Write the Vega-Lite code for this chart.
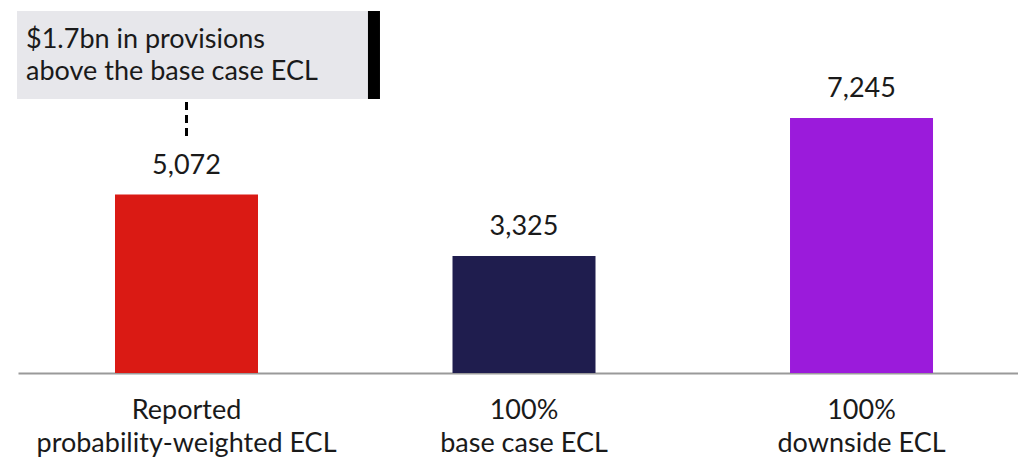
{
  "$schema": "https://vega.github.io/schema/vega-lite/v6.json",
  "width": 1000,
  "height": 373,
  "autosize": "none",
  "padding": {"left": 18, "top": 0, "right": 0, "bottom": 85},
  "background": "white",
  "config": {
    "view": {"stroke": null},
    "font": "Lato",
    "text": {"font": "Lato"}
  },
  "datasets": {
    "bars": [
      {"cat": "Reported|probability-weighted ECL", "value": 5072, "kind": "reported"},
      {"cat": "100%|base case ECL", "value": 3325, "kind": "base"},
      {"cat": "100%|downside ECL", "value": 7245, "kind": "downside"}
    ],
    "note": [
      {"cat": "Reported|probability-weighted ECL", "top": 10287, "bottom": 7786, "textY": 9236, "lineTop": 7701, "lineBottom": 6707, "label": "$1.7bn in provisions\nabove the base case ECL"}
    ]
  },
  "encoding": {
    "x": {
      "field": "cat",
      "type": "nominal",
      "sort": null,
      "scale": {"paddingInner": 0.5763, "paddingOuter": 0.2696, "align": 0.533},
      "axis": {
        "title": null,
        "labelAngle": 0,
        "labelExpr": "split(datum.label, '|')",
        "labelFont": "Lato",
        "labelFontSize": 27,
        "labelColor": "#1a1a1a",
        "labelLineHeight": 33,
        "labelBaseline": "alphabetic",
        "labelPadding": 45,
        "ticks": false,
        "tickSize": 0,
        "domainColor": "#9a9a9a",
        "domainWidth": 2,
        "labelLimit": 0
      }
    }
  },
  "layer": [
    {
      "data": {"name": "bars"},
      "mark": {"type": "bar"},
      "encoding": {
        "y": {"field": "value", "type": "quantitative", "scale": {"domain": [0, 10600], "nice": false}, "axis": null},
        "color": {
          "field": "kind",
          "type": "nominal",
          "scale": {"domain": ["reported", "base", "downside"], "range": ["#da1a14", "#1f1d4e", "#9b1bdb"]},
          "legend": null
        }
      }
    },
    {
      "data": {"name": "bars"},
      "mark": {"type": "text", "baseline": "alphabetic", "dy": -21, "fontSize": 27, "color": "#1a1a1a"},
      "encoding": {
        "y": {"field": "value", "type": "quantitative"},
        "text": {"field": "value", "type": "quantitative", "format": ","}
      }
    },
    {
      "data": {"name": "note"},
      "mark": {"type": "rect", "color": "#e7e7eb"},
      "encoding": {
        "x": {"field": "cat", "type": "nominal", "bandPosition": -0.685},
        "x2": {"field": "cat", "bandPosition": 1.769},
        "y": {"field": "top", "type": "quantitative"},
        "y2": {"field": "bottom"}
      }
    },
    {
      "data": {"name": "note"},
      "mark": {"type": "rect", "color": "#000000"},
      "encoding": {
        "x": {"field": "cat", "type": "nominal", "bandPosition": 1.769},
        "x2": {"field": "cat", "bandPosition": 1.853},
        "y": {"field": "top", "type": "quantitative"},
        "y2": {"field": "bottom"}
      }
    },
    {
      "data": {"name": "note"},
      "mark": {"type": "rule", "color": "#000000", "strokeWidth": 3, "strokeDash": [8, 5]},
      "encoding": {
        "x": {"field": "cat", "type": "nominal", "bandPosition": 0.5},
        "y": {"field": "lineTop", "type": "quantitative"},
        "y2": {"field": "lineBottom"}
      }
    },
    {
      "data": {"name": "note"},
      "mark": {"type": "text", "align": "left", "baseline": "alphabetic", "lineBreak": "\n", "lineHeight": 32, "fontSize": 27, "color": "#1a1a1a"},
      "encoding": {
        "x": {"field": "cat", "type": "nominal", "bandPosition": -0.622},
        "y": {"field": "textY", "type": "quantitative"},
        "text": {"field": "label"}
      }
    }
  ]
}
